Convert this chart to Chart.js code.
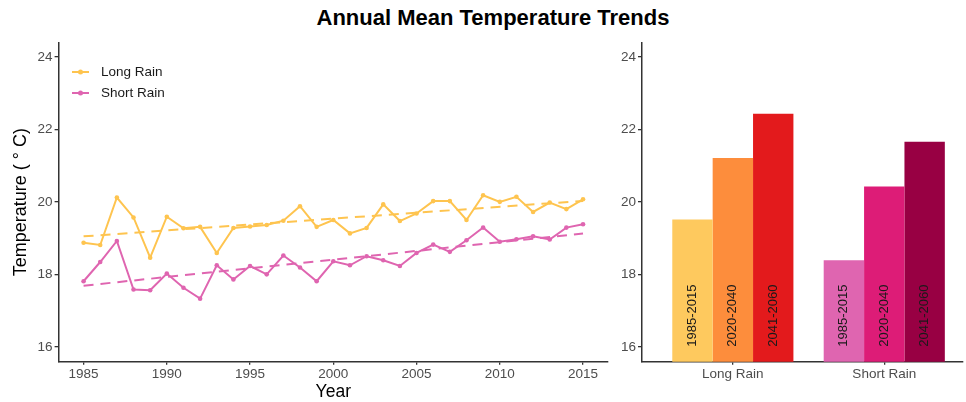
<!DOCTYPE html>
<html>
<head>
<meta charset="utf-8">
<script src="https://cdn.jsdelivr.net/npm/chart.js@4.4.1/dist/chart.umd.min.js"></script>
<style>
  body { margin: 0; background: #fff; width: 966px; height: 402px; overflow: hidden; position: relative; font-family: "Liberation Sans", Arial, sans-serif; }
  #title { position: absolute; left: 293px; top: 5px; width: 400px; text-align: center; font-weight: bold; font-size: 22px; color: #000; }
  #lineChart { position: absolute; left: 0; top: 0; }
  #barChart { position: absolute; left: 612px; top: 0; }
</style>
</head>
<body>
<div id="title">Annual Mean Temperature Trends</div>
<canvas id="lineChart" width="612" height="402"></canvas>
<canvas id="barChart" width="354" height="402"></canvas>
<script>
// yearly series
const years = [1985, 1986, 1987, 1988, 1989, 1990, 1991, 1992, 1993, 1994, 1995, 1996, 1997, 1998, 1999, 2000,
               2001, 2002, 2003, 2004, 2005, 2006, 2007, 2008, 2009, 2010, 2011, 2012, 2013, 2014, 2015];
const longRain = [18.87, 18.81, 20.12, 19.57, 18.46, 19.59, 19.27, 19.31, 18.59, 19.28, 19.32, 19.36, 19.48, 19.88, 19.31, 19.50,
                  19.13, 19.28, 19.93, 19.47, 19.68, 20.02, 20.02, 19.50, 20.18, 20.00, 20.14, 19.72, 19.98, 19.80, 20.07];
const shortRain = [17.81, 18.34, 18.92, 17.58, 17.56, 18.02, 17.63, 17.33, 18.25, 17.86, 18.23, 18.00, 18.52, 18.19, 17.81, 18.36,
                   18.25, 18.50, 18.39, 18.23, 18.59, 18.82, 18.62, 18.94, 19.29, 18.90, 18.97, 19.05, 18.96, 19.29, 19.38];

const yearTicks = [1985, 1990, 1995, 2000, 2005, 2010, 2015];
const tempTicks = [16, 18, 20, 22, 24];

// period means per season
const seasons = ['Long Rain', 'Short Rain'];
const periods = ['1985-2015', '2020-2040', '2041-2060'];
const period1985 = [19.51, 18.39];
const period2020 = [21.21, 20.42];
const period2041 = [22.43, 21.66];

const longColor = '#FEC44F';
const shortColor = '#DF65B0';
const periodColors = [
  ['#FEC95E', '#DF65B0'],
  ['#FD8D3C', '#DD1C77'],
  ['#E31A1C', '#980043']
];

const axisColor = '#333333';
const tickColor = '#4D4D4D';
const fontFamily = '"Liberation Sans", Arial, sans-serif';

// least squares line, like geom_smooth(method = "lm")
function fitLine(xs, ys) {
  const n = xs.length;
  let sx = 0, sy = 0, sxx = 0, sxy = 0;
  for (let i = 0; i < n; i++) {
    sx += xs[i]; sy += ys[i]; sxx += xs[i] * xs[i]; sxy += xs[i] * ys[i];
  }
  const slope = (n * sxy - sx * sy) / (n * sxx - sx * sx);
  const icpt = (sy - slope * sx) / n;
  const x0 = xs[0], x1 = xs[n - 1];
  return [{ x: x0, y: icpt + slope * x0 }, { x: x1, y: icpt + slope * x1 }];
}

const toPoints = (vals) => vals.map((v, i) => ({ x: years[i], y: v }));

const yAxis = (width) => ({
  min: 15.59,
  max: 24.39,
  afterBuildTicks: (s) => { s.ticks = tempTicks.map(v => ({ value: v })); },
  afterFit: (s) => { s.width = width; },
  grid: { drawOnChartArea: false, drawTicks: true, tickLength: 4, color: axisColor, lineWidth: 1.3 },
  border: { display: true, color: axisColor, width: 1.5 },
  ticks: { color: tickColor, padding: 2, font: { family: fontFamily, size: 13.5 } }
});

const xGrid = { drawOnChartArea: false, drawTicks: true, tickLength: 3, color: axisColor, lineWidth: 1.3, offset: false };

const legendPlugin = {
  id: 'insideLegend',
  afterDraw(chart) {
    const ctx = chart.ctx;
    const items = chart.data.datasets.filter(d => !d.trend);
    ctx.save();
    items.forEach((d, i) => {
      const y = 72 + i * 21;
      ctx.strokeStyle = d.borderColor;
      ctx.lineWidth = 2;
      ctx.beginPath();
      ctx.moveTo(72, y);
      ctx.lineTo(89, y);
      ctx.stroke();
      ctx.fillStyle = d.borderColor;
      ctx.beginPath();
      ctx.arc(80.5, y, 2.5, 0, Math.PI * 2);
      ctx.fill();
      ctx.fillStyle = '#1a1a1a';
      ctx.font = '13.5px ' + fontFamily;
      ctx.textBaseline = 'middle';
      ctx.textAlign = 'left';
      ctx.fillText(d.label, 101, y);
    });
    ctx.restore();
  }
};

new Chart(document.getElementById('lineChart'), {
  type: 'line',
  data: {
    datasets: [
      { label: 'Long Rain', data: toPoints(longRain), borderColor: longColor, backgroundColor: longColor,
        borderWidth: 2, pointRadius: 2.3, pointBorderWidth: 0 },
      { label: 'Short Rain', data: toPoints(shortRain), borderColor: shortColor, backgroundColor: shortColor,
        borderWidth: 2, pointRadius: 2.3, pointBorderWidth: 0 },
      { label: 'Long Rain trend', trend: true, data: fitLine(years, longRain), borderColor: longColor,
        borderWidth: 2, borderDash: [10, 7], pointRadius: 0 },
      { label: 'Short Rain trend', trend: true, data: fitLine(years, shortRain), borderColor: shortColor,
        borderWidth: 2, borderDash: [10, 7], pointRadius: 0 }
    ]
  },
  options: {
    responsive: false,
    animation: false,
    layout: { padding: { left: 0, top: 42.7, right: 3, bottom: 0 } },
    plugins: { legend: { display: false }, tooltip: { enabled: false } },
    scales: {
      x: {
        type: 'linear',
        min: 1983.5,
        max: 2016.5,
        afterBuildTicks: (s) => { s.ticks = yearTicks.map(v => ({ value: v })); },
        afterFit: (s) => { s.height = 40.3; },
        grid: xGrid,
        border: { display: true, color: axisColor, width: 1.5 },
        ticks: { color: tickColor, padding: 1, maxRotation: 0, font: { family: fontFamily, size: 13.5 },
                 callback: (v) => String(v) },
        title: { display: true, text: 'Year', color: '#000', padding: { top: 0, bottom: 0 },
                 font: { family: fontFamily, size: 17.5, lineHeight: 1.1 } }
      },
      y: Object.assign(yAxis(58.6), {
        title: { display: true, text: 'Temperature ( ° C)', color: '#000', padding: { top: 10, bottom: 0 },
                 font: { family: fontFamily, size: 18 } }
      })
    }
  },
  plugins: [legendPlugin]
});

const barLabelPlugin = {
  id: 'barLabels',
  afterDatasetsDraw(chart) {
    const ctx = chart.ctx;
    ctx.save();
    ctx.font = '13px ' + fontFamily;
    ctx.fillStyle = '#1a1a1a';
    ctx.textAlign = 'left';
    ctx.textBaseline = 'middle';
    chart.data.datasets.forEach((d, di) => {
      chart.getDatasetMeta(di).data.forEach((bar) => {
        ctx.save();
        ctx.translate(bar.x, chart.chartArea.bottom - 15);
        ctx.rotate(-Math.PI / 2);
        ctx.fillText(d.label, 0, 0);
        ctx.restore();
      });
    });
    ctx.restore();
  }
};

const periodValues = [period1985, period2020, period2041];

new Chart(document.getElementById('barChart'), {
  type: 'bar',
  data: {
    datasets: periods.map((p, i) => ({
      label: p,
      data: periodValues[i].map((v, j) => ({ x: j + 1, y: v })),
      backgroundColor: periodColors[i],
      borderWidth: 0
    }))
  },
  options: {
    responsive: false,
    animation: false,
    layout: { padding: { left: 0, top: 42.7, right: 3, bottom: 0 } },
    plugins: { legend: { display: false }, tooltip: { enabled: false } },
    datasets: { bar: { categoryPercentage: 0.8, barPercentage: 1.0 } },
    scales: {
      x: {
        type: 'linear',
        offset: false,
        min: 0.4,
        max: 2.52,
        afterBuildTicks: (s) => { s.ticks = seasons.map((_, j) => ({ value: j + 1 })); },
        afterFit: (s) => { s.height = 40.3; },
        grid: xGrid,
        border: { display: true, color: axisColor, width: 1.5 },
        ticks: { color: tickColor, padding: 1, maxRotation: 0, font: { family: fontFamily, size: 13.5 },
                 callback: (v) => seasons[Math.round(v) - 1] }
      },
      y: yAxis(30)
    }
  },
  plugins: [barLabelPlugin]
});
</script>
</body>
</html>
